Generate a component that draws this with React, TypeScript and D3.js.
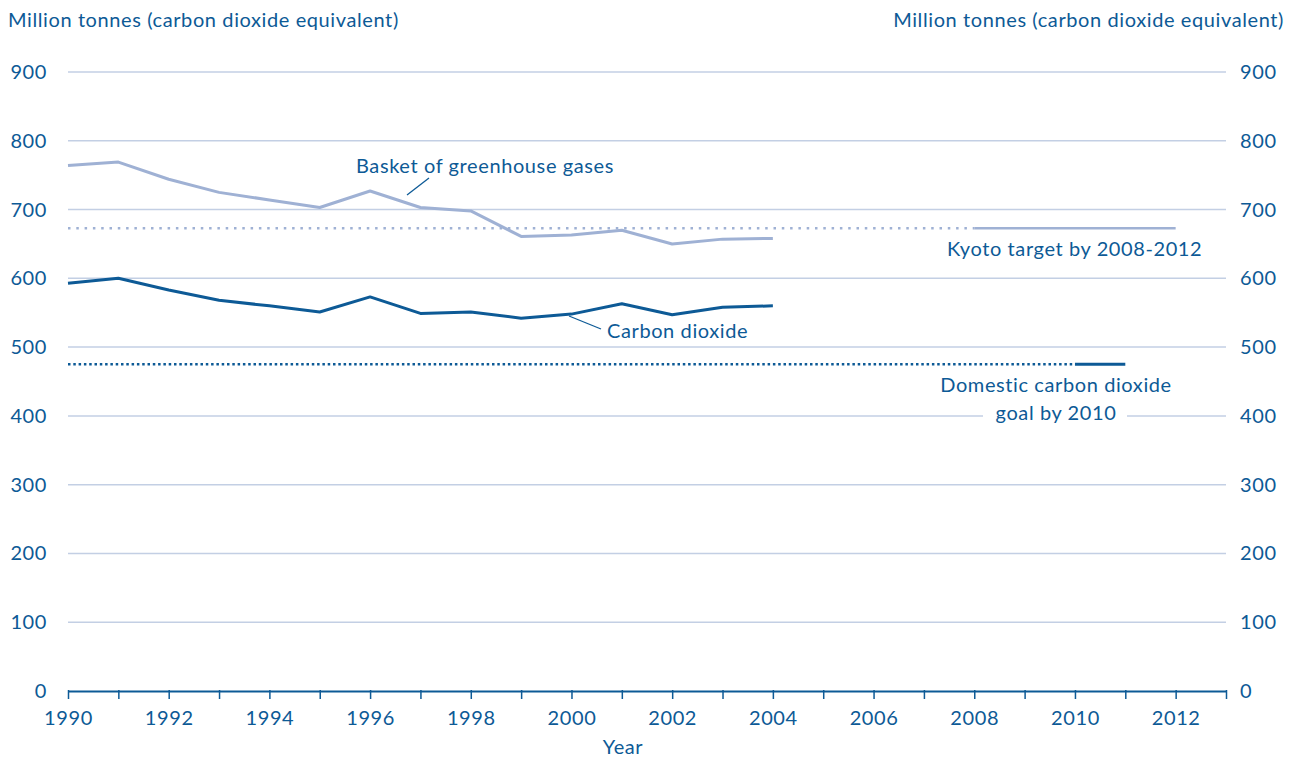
import React, { useEffect, useRef } from "react";
import * as d3 from "d3";

// Data
const years = [1990, 1991, 1992, 1993, 1994, 1995, 1996, 1997, 1998, 1999, 2000, 2001, 2002, 2003, 2004];
const basketValues = [764, 769, 744, 725, 714, 703, 727, 703, 698, 661, 663, 670, 650, 657, 658];
const co2Values = [593, 600, 583, 568, 560, 551, 573, 549, 551, 542, 548, 563, 547, 558, 560];
const yTicks = [0, 100, 200, 300, 400, 500, 600, 700, 800, 900];
const xLabelYears = [1990, 1992, 1994, 1996, 1998, 2000, 2002, 2004, 2006, 2008, 2010, 2012];
const kyotoTarget = { value: 673, start: 2008, end: 2012 };
const domesticGoal = { value: 475, start: 2010, end: 2011 };

const DARK = "#0d5a96";
const LIGHT = "#9fb1d4";
const GRID = "#c3cfe4";
const FONT = "Lato, 'Open Sans', sans-serif";
const FS = "20px";
const LS = "0.6px";

const App = () => {
  const svgRef = useRef<SVGSVGElement>(null);

  useEffect(() => {
    const width = 1296;
    const height = 762;
    const margin = { top: 72, right: 70, bottom: 71, left: 68 };

    d3.select(svgRef.current).selectAll("*").remove();

    const svg = d3
      .select(svgRef.current)
      .attr("width", width)
      .attr("height", height)
      .style("font-family", FONT)
      .style("letter-spacing", LS);

    const x = d3.scaleLinear().domain([1990, 2013]).range([margin.left, width - margin.right]);
    const y = d3.scaleLinear().domain([0, 900]).range([height - margin.bottom, margin.top]);

    // Gridlines
    svg
      .append("g")
      .selectAll("line")
      .data(yTicks.filter((d) => d > 0))
      .join("line")
      .attr("x1", x(1990))
      .attr("x2", x(2013))
      .attr("y1", (d) => y(d))
      .attr("y2", (d) => y(d))
      .attr("stroke", GRID)
      .attr("stroke-width", 1.5);

    // Y tick labels, both sides
    const yl = svg.append("g").style("font-size", FS).attr("fill", DARK);
    yl.selectAll("text.l")
      .data(yTicks)
      .join("text")
      .attr("class", "l")
      .attr("x", 47)
      .attr("y", (d) => y(d) + 7)
      .attr("text-anchor", "end")
      .text((d) => d);
    yl.selectAll("text.r")
      .data(yTicks)
      .join("text")
      .attr("class", "r")
      .attr("x", 1240)
      .attr("y", (d) => y(d) + 7)
      .attr("text-anchor", "start")
      .text((d) => d);

    // Axis titles
    svg.append("text").attr("x", 8).attr("y", 27).attr("fill", DARK).style("font-size", FS)
      .text("Million tonnes (carbon dioxide equivalent)");
    svg.append("text").attr("x", 1284).attr("y", 27).attr("fill", DARK).attr("text-anchor", "end")
      .style("font-size", FS).text("Million tonnes (carbon dioxide equivalent)");

    // X axis
    const xAxis = svg
      .append("g")
      .attr("transform", `translate(0,${y(0)})`)
      .call(
        d3.axisBottom(x)
          .tickValues(d3.range(1990, 2014))
          .tickSize(9)
          .tickSizeOuter(0)
          .tickFormat((d) => (xLabelYears.includes(+d) ? String(d) : ""))
      );
    xAxis.select(".domain").attr("stroke", DARK).attr("stroke-width", 2);
    xAxis.selectAll(".tick line").attr("stroke", DARK).attr("stroke-width", 1.5).attr("transform", "translate(0,-1)");
    xAxis.selectAll(".tick text")
      .attr("fill", DARK)
      .attr("dy", 0)
      .attr("y", 34)
      .style("font-size", FS)
      .style("font-family", FONT);

    svg.append("text").attr("x", 623).attr("y", 754).attr("text-anchor", "middle").attr("fill", DARK)
      .style("font-size", FS).text("Year");

    // Targets
    svg.append("line")
      .attr("x1", x(1990)).attr("x2", x(kyotoTarget.start))
      .attr("y1", y(kyotoTarget.value)).attr("y2", y(kyotoTarget.value))
      .attr("stroke", LIGHT).attr("stroke-width", 2.5).attr("stroke-dasharray", "2.5 5.8");
    svg.append("line")
      .attr("x1", x(kyotoTarget.start)).attr("x2", x(kyotoTarget.end))
      .attr("y1", y(kyotoTarget.value)).attr("y2", y(kyotoTarget.value))
      .attr("stroke", LIGHT).attr("stroke-width", 2.5);

    svg.append("line")
      .attr("x1", x(1990)).attr("x2", x(domesticGoal.start))
      .attr("y1", y(domesticGoal.value)).attr("y2", y(domesticGoal.value))
      .attr("stroke", DARK).attr("stroke-width", 2.5).attr("stroke-dasharray", "2.5 2.8");
    svg.append("line")
      .attr("x1", x(domesticGoal.start)).attr("x2", x(domesticGoal.end))
      .attr("y1", y(domesticGoal.value)).attr("y2", y(domesticGoal.value))
      .attr("stroke", DARK).attr("stroke-width", 3);

    // Series lines
    const line = d3
      .line<number>()
      .x((_, i) => x(years[i]))
      .y((d) => y(d));

    svg.append("path").datum(basketValues).attr("d", line).attr("fill", "none")
      .attr("stroke", LIGHT).attr("stroke-width", 3).attr("stroke-linejoin", "round");
    svg.append("path").datum(co2Values).attr("d", line).attr("fill", "none")
      .attr("stroke", DARK).attr("stroke-width", 3).attr("stroke-linejoin", "round");

    // white patch breaking the 400 gridline behind the label
    svg.append("rect").attr("x", 983).attr("y", y(400) - 4).attr("width", 144).attr("height", 8).attr("fill", "white");

    // Annotations
    const ann = svg.append("g").attr("fill", DARK).style("font-size", FS);
    ann.append("text").attr("x", 356).attr("y", 173).text("Basket of greenhouse gases");
    svg.append("line").attr("x1", 407).attr("y1", 195).attr("x2", 429).attr("y2", 178)
      .attr("stroke", DARK).attr("stroke-width", 1.3);

    ann.append("text").attr("x", 607).attr("y", 338).text("Carbon dioxide");
    svg.append("line").attr("x1", 569).attr("y1", 316).attr("x2", 601).attr("y2", 329)
      .attr("stroke", DARK).attr("stroke-width", 1.3);

    ann.append("text").attr("x", 947).attr("y", 256).text("Kyoto target by 2008-2012");

    ann.append("text").attr("x", 1056).attr("y", 392).attr("text-anchor", "middle").text("Domestic carbon dioxide");
    ann.append("text").attr("x", 1056).attr("y", 420).attr("text-anchor", "middle").text("goal by 2010");
  }, []);

  return <svg ref={svgRef} style={{ display: "block", position: "absolute", left: 0, top: 0 }}></svg>;
};

export default App;
